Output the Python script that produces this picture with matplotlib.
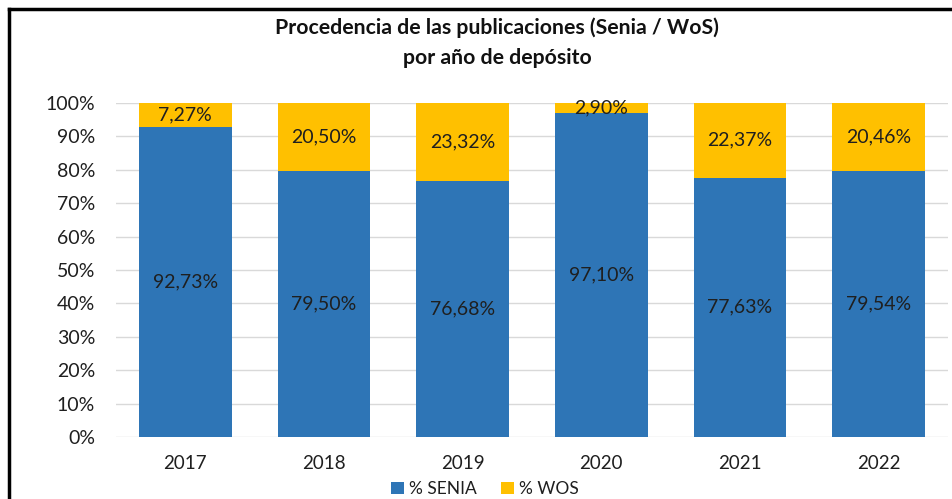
import matplotlib.pyplot as plt
from matplotlib.lines import Line2D
import numpy as np

years = ['2017', '2018', '2019', '2020', '2021', '2022']
senia = [92.73, 79.50, 76.68, 97.10, 77.63, 79.54]
wos = [7.27, 20.50, 23.32, 2.90, 22.37, 20.46]

blue = '#2E75B6'
gold = '#FFC000'

plt.rcParams['font.family'] = ['Lato', 'DejaVu Sans']

fig = plt.figure(figsize=(9.53, 4.99), dpi=100)
ax = fig.add_axes([116 / 953, 1 - 437 / 499, (948 - 116) / 953, (437 - 103) / 499])

x = np.arange(len(years))
w = 0.67
ax.bar(x, senia, w, color=blue, label='% SENIA', zorder=3)
ax.bar(x, wos, w, bottom=senia, color=gold, label='% WOS', zorder=3)

def fmt(v):
    return f'{v:.2f}%'.replace('.', ',')

for i in range(len(years)):
    ax.text(x[i], senia[i] / 2, fmt(senia[i]), ha='center', va='center',
            fontsize=14, color='#1f1f1f', zorder=4)
    ax.text(x[i], senia[i] + wos[i] / 2, fmt(wos[i]), ha='center', va='center',
            fontsize=14, color='#1f1f1f', zorder=4)

ax.set_xlim(-0.5, len(years) - 0.5)
ax.set_ylim(0, 100)
ax.set_yticks(range(0, 101, 10))
ax.set_yticklabels([f'{v}%' for v in range(0, 101, 10)])
ax.set_xticks(x)
ax.set_xticklabels(years)
ax.tick_params(length=0, labelsize=14, colors='#1f1f1f')
ax.tick_params(axis='y', pad=15)
ax.tick_params(axis='x', labelsize=13.5, pad=13)
ax.grid(axis='y', color='#D9D9D9', linewidth=1, zorder=0)
for s in ax.spines.values():
    s.set_visible(False)

fig.text(497 / 953, 1 - 28 / 499, 'Procedencia de las publicaciones (Senia / WoS)',
         ha='center', va='center', fontsize=15.3, fontweight='bold', color='#111111')
fig.text(497 / 953, 1 - 58 / 499, 'por año de depósito',
         ha='center', va='center', fontsize=15.3, fontweight='bold', color='#111111')

fig.legend(loc='center', bbox_to_anchor=(485 / 953, 1 - 489 / 499), ncol=2,
           frameon=False, fontsize=12.5, handlelength=0.75, handleheight=0.75,
           handletextpad=0.3, columnspacing=1.4, labelcolor='#1f1f1f')

# black frame on top and left edges
fig.add_artist(Line2D([9 / 953, 9 / 953], [0, 1 - 9 / 499], transform=fig.transFigure,
                      color='black', linewidth=2.5))
fig.add_artist(Line2D([9 / 953, 1], [1 - 9 / 499, 1 - 9 / 499], transform=fig.transFigure,
                      color='black', linewidth=2.5))

fig.savefig('out.png', dpi=100)
